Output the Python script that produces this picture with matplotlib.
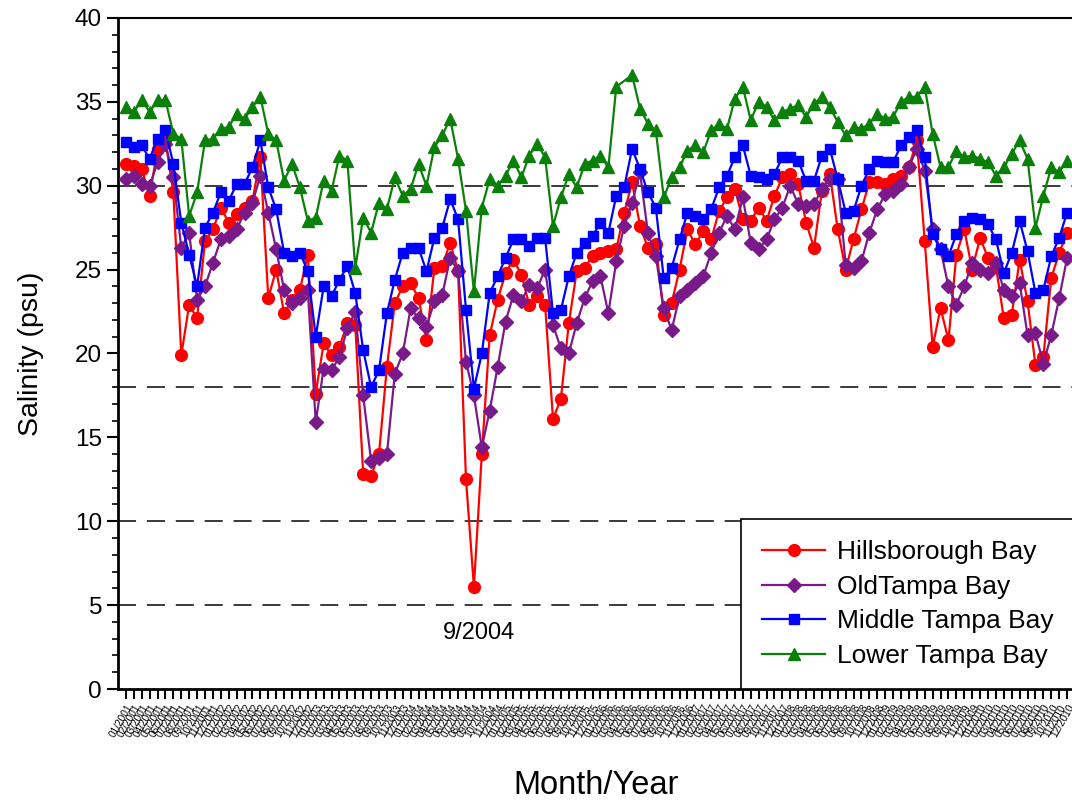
import numpy as np
import pandas as pd
import matplotlib
matplotlib.use('Agg')
import matplotlib.pyplot as plt
from matplotlib.ticker import MultipleLocator, FixedLocator

plt.rcParams['font.family'] = ['Liberation Sans', 'DejaVu Sans']

# ── Monthly salinity by bay segment, 01/2001 – 12/2010 ─────────────────────
months = pd.date_range('2001-01-01', '2010-12-01', freq='MS')
month_labels = [d.strftime('%m/%Y') for d in months]

hillsborough = [
    31.3, 31.2, 31.0, 29.4, 32.2, 32.7, 29.6, 19.9, 22.9, 22.1,
    26.7, 27.4, 28.7, 27.8, 28.3, 28.7, 29.1, 31.7, 23.3, 25.0,
    22.4, 23.2, 23.8, 25.9, 17.6, 20.6, 19.9, 20.4, 21.8, 21.7,
    12.8, 12.7, 14.0, 19.2, 23.0, 24.0, 24.2, 23.3, 20.8, 25.1,
    25.2, 26.6, 24.9, 12.5, 6.1, 14.0, 21.1, 23.2, 24.8, 25.6,
    24.7, 22.9, 23.4, 22.9, 16.1, 17.3, 21.8, 24.9, 25.1, 25.8,
    26.0, 26.1, 26.2, 28.4, 30.2, 27.6, 26.3, 26.5, 22.3, 23.0,
    25.0, 27.4, 26.5, 27.3, 26.8, 28.5, 29.3, 29.8, 28.0, 27.9,
    28.7, 27.9, 29.4, 30.5, 30.7, 30.1, 27.8, 26.3, 29.7, 30.7,
    27.4, 25.0, 26.8, 28.6, 30.2, 30.2, 30.1, 30.4, 30.6, 31.1,
    32.7, 26.7, 20.4, 22.7, 20.8, 25.9, 27.4, 25.0, 26.9, 25.7,
    25.2, 22.1, 22.3, 25.6, 23.1, 19.3, 19.8, 24.5, 26.0, 27.2,
]

old_tampa = [
    30.4, 30.6, 30.1, 30.0, 31.4, 32.5, 30.5, 26.3, 27.2, 23.2,
    24.0, 25.4, 26.8, 27.0, 27.4, 28.4, 29.0, 30.6, 28.4, 26.2,
    23.8, 23.0, 23.3, 23.8, 15.9, 19.1, 19.0, 19.8, 21.5, 22.5,
    17.5, 13.6, 13.8, 14.0, 18.8, 20.0, 22.7, 22.1, 21.6, 23.1,
    23.5, 25.7, 24.9, 19.5, 17.5, 14.4, 16.6, 19.2, 21.9, 23.5,
    23.1, 24.1, 23.9, 25.0, 21.7, 20.3, 20.0, 21.8, 23.3, 24.3,
    24.6, 22.4, 25.5, 27.6, 29.0, 30.8, 27.2, 25.8, 22.7, 21.4,
    23.4, 23.8, 24.2, 24.6, 26.0, 27.2, 28.2, 27.4, 29.3, 26.6,
    26.2, 26.8, 28.0, 28.7, 30.0, 28.9, 28.8, 28.9, 29.8, 30.4,
    30.4, 25.3, 25.1, 25.5, 27.2, 28.6, 29.5, 29.7, 30.1, 31.1,
    32.2, 30.9, 27.4, 26.2, 24.0, 22.9, 24.0, 25.4, 25.0, 24.8,
    25.4, 23.8, 23.4, 24.2, 21.1, 21.2, 19.4, 21.1, 23.3, 25.7,
]

middle_tampa = [
    32.6, 32.3, 32.4, 31.6, 32.8, 33.3, 31.3, 27.8, 25.9, 24.0,
    27.5, 28.4, 29.6, 29.1, 30.1, 30.1, 31.1, 32.7, 29.9, 28.6,
    26.0, 25.8, 26.0, 24.9, 21.0, 24.0, 23.4, 24.4, 25.2, 23.6,
    20.2, 18.0, 19.0, 22.4, 24.4, 26.0, 26.3, 26.3, 24.9, 26.9,
    27.5, 29.2, 28.0, 22.6, 17.9, 20.0, 23.6, 24.6, 25.7, 26.8,
    26.8, 26.4, 26.9, 26.9, 22.4, 22.6, 24.6, 26.0, 26.6, 27.0,
    27.8, 27.2, 29.4, 29.9, 32.2, 31.0, 29.6, 28.7, 24.5, 25.1,
    26.8, 28.4, 28.2, 28.0, 28.6, 29.9, 30.6, 31.7, 32.4, 30.6,
    30.5, 30.4, 30.7, 31.7, 31.7, 31.5, 30.3, 30.3, 31.8, 32.2,
    30.4, 28.4, 28.5, 30.0, 31.0, 31.5, 31.4, 31.4, 32.4, 32.9,
    33.3, 31.7, 27.1, 26.2, 25.8, 27.1, 27.9, 28.1, 28.0, 27.7,
    26.8, 24.8, 26.0, 27.9, 26.1, 23.6, 23.8, 25.8, 26.9, 28.4,
]

# no sample for 04/2006 at the lower bay station
lower_tampa = [
    34.7, 34.4, 35.1, 34.4, 35.1, 35.1, 33.1, 32.8, 28.2, 29.6,
    32.7, 32.8, 33.4, 33.5, 34.3, 34.0, 34.7, 35.3, 33.1, 32.7,
    30.3, 31.3, 29.9, 27.9, 28.1, 30.3, 29.7, 31.8, 31.5, 25.1,
    28.1, 27.2, 29.0, 28.6, 30.5, 29.4, 29.8, 31.3, 30.0, 32.3,
    33.0, 34.0, 31.6, 28.5, 23.7, 28.7, 30.4, 30.0, 30.6, 31.5,
    30.5, 31.8, 32.5, 31.7, 27.6, 29.3, 30.7, 29.9, 31.3, 31.5,
    31.8, 31.1, 35.9, np.nan, 36.6, 34.6, 33.7, 33.3, 29.3, 30.5,
    31.1, 32.1, 32.4, 32.0, 33.3, 33.7, 33.4, 35.2, 35.9, 33.9,
    35.0, 34.7, 33.9, 34.4, 34.6, 34.8, 34.1, 34.9, 35.3, 34.7,
    33.8, 33.0, 33.5, 33.4, 33.7, 34.3, 34.0, 34.1, 35.0, 35.3,
    35.3, 35.9, 33.1, 31.1, 31.1, 32.1, 31.7, 31.8, 31.6, 31.4,
    30.6, 31.1, 31.9, 32.7, 31.6, 27.5, 29.4, 31.1, 30.8, 31.5,
]

reference_levels = [5, 10, 18, 30]

# ── Figure ──────────────────────────────────────────────────────────────────
W, H = 1072, 805
fig = plt.figure(figsize=(W / 100, H / 100), dpi=100)
ax = fig.add_axes([118 / W, 1 - 689 / H, (1075 - 118) / W, (689 - 18) / H])

x = np.arange(len(months))

for lvl in reference_levels:
    ax.axhline(lvl, color='#2b2b2b', lw=1.3, ls=(0, (10, 6)), zorder=1)

series = [
    ('Hillsborough Bay', hillsborough, '#ff0000', 'o', 8.5),
    ('OldTampa Bay', old_tampa, '#7a1a8a', 'D', 7.5),
    ('Middle Tampa Bay', middle_tampa, '#0000ff', 's', 7.5),
    ('Lower Tampa Bay', lower_tampa, '#0a800a', '^', 8.5),
]
for name, vals, color, marker, ms in series:
    v = np.asarray(vals, dtype=float)
    ok = ~np.isnan(v)
    ax.plot(x[ok], v[ok], color=color, marker=marker, ms=ms, lw=1.6,
            mec=color, label=name, zorder=3)

ax.set_xlim(-1, 120)
ax.set_ylim(0, 40)

ax.xaxis.set_major_locator(FixedLocator(x))
ax.set_xticklabels(month_labels, rotation=60, ha='right', va='top',
                   rotation_mode='anchor', fontsize=7.2)
ax.tick_params(axis='x', direction='out', length=7, width=1.5, pad=3)

ax.yaxis.set_major_locator(MultipleLocator(5))
ax.yaxis.set_minor_locator(MultipleLocator(1))
ax.tick_params(axis='y', which='major', direction='out', length=8, width=1.5,
               labelsize=17.5)
ax.tick_params(axis='y', which='minor', direction='out', length=4, width=1.2)

for side in ['left', 'bottom']:
    ax.spines[side].set_linewidth(2)
ax.spines['top'].set_linewidth(1.5)
ax.spines['right'].set_linewidth(1.5)

ax.set_ylabel('Salinity (psu)', fontsize=20.5, labelpad=22)
ax.set_xlabel('Month/Year', fontsize=23.5, labelpad=22)

ax.text(44.7, 3.35, '9/2004', ha='center', va='center', fontsize=17)

leg = ax.legend(loc='lower right', bbox_to_anchor=(1.0, 0.0), borderaxespad=0,
                fontsize=19, handlelength=2.4, handletextpad=0.45,
                labelspacing=0.4, borderpad=0.8, fancybox=False,
                framealpha=1, edgecolor='black')
leg.get_frame().set_linewidth(1.2)

fig.savefig('out.png', dpi=100)
